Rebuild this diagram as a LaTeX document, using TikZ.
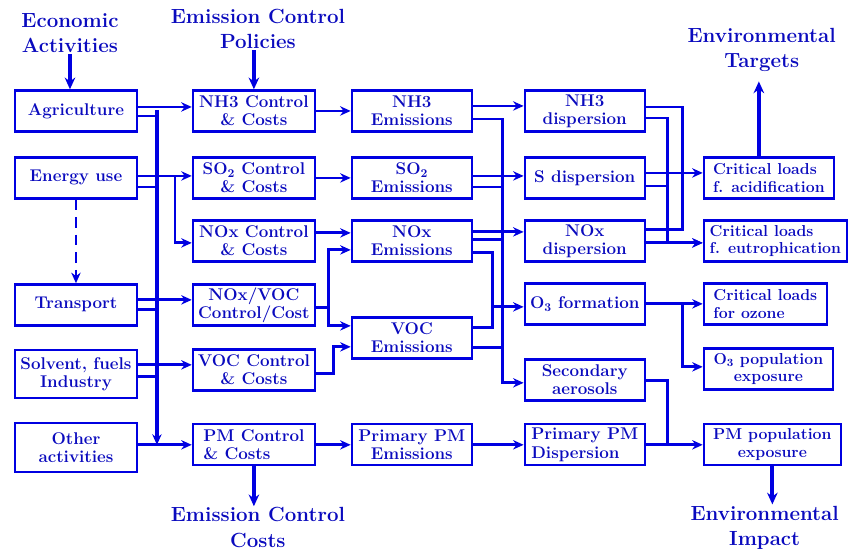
\documentclass[tikz,border=0pt]{standalone}
\usepackage{tikz}
\usetikzlibrary{arrows.meta,positioning,calc}
\definecolor{flowblue}{RGB}{0,0,225}
\definecolor{textblue}{RGB}{10,10,190}

\begin{document}
\begin{tikzpicture}[x=0.03cm, y=-0.03cm,
    blk/.style={draw=flowblue,line width=2pt,fill=white,inner sep=1pt,minimum height=1.23cm,
      text=textblue,align=center,font=\fontsize{14.5}{15.5}\selectfont\bfseries},
    act/.style={blk,minimum width=3.66cm},
    ctl/.style={blk,minimum width=3.66cm},
    emi/.style={blk,minimum width=3.6cm},
    tgt/.style={blk,anchor=west,align=left,font=\fontsize{13.5}{15}\selectfont\bfseries},
    ttl/.style={text=textblue,align=center,inner sep=1pt,font=\fontsize{17.5}{22}\selectfont\bfseries},
    link/.style={draw=flowblue,line width=2.4pt},
    arr/.style={link,-{Stealth[length=9pt,width=8pt]}},
    busarr/.style={arr,line width=3.2pt},
    bigarr/.style={draw=flowblue,line width=3.2pt,-{Stealth[length=10pt,width=9pt]}}
  ]
  \fill[white] (0,0) rectangle (848,551);
  % titles
  \node[ttl] (econ) at (70,33)  {Economic\\Activities};
  \node[ttl] (pol)  at (258,29) {Emission Control\\Policies};
  \node[ttl] (targ) at (762,50) {Environmental\\Targets};
  \node[ttl] (cost) at (258,528) {Emission Control\\Costs};
  \node[ttl] (imp)  at (765,528) {Environmental\\Impact};
  % economic activities
  \node[act] (agr)   at (76,111) {Agriculture};
  \node[act] (ener)  at (76,178) {Energy use};
  \node[act] (trans) at (76,305) {Transport};
  \node[act,minimum height=1.44cm] (solv)  at (76,374) {Solvent, fuels\\Industry};
  \node[act,minimum height=1.47cm] (other) at (76,448) {Other\\activities};
  % controls
  \node[ctl] (nh3c) at (254,111) {NH3 Control\\\& Costs};
  \node[ctl] (so2c) at (254,178) {SO\textsubscript{2} Control\\\& Costs};
  \node[ctl] (noxc) at (254,241) {NOx Control\\\& Costs};
  \node[ctl] (nvc)  at (254,305) {NOx/VOC\\Control/Cost};
  \node[ctl] (vocc) at (254,370) {VOC Control\\\& Costs};
  \node[ctl,align=left] (pmc) at (254,445) {PM Control\\\& Costs};
  % emissions
  \node[emi] (nh3e) at (412,111) {NH3\\Emissions};
  \node[emi] (so2e) at (412,178) {SO\textsubscript{2}\\Emissions};
  \node[emi] (noxe) at (412,241) {NOx\\Emissions};
  \node[emi] (voce) at (412,338) {VOC\\Emissions};
  \node[emi] (pme)  at (412,445) {Primary PM\\Emissions};
  % dispersion
  \node[emi] (nh3d) at (585,111) {NH3\\dispersion};
  \node[emi] (sd)   at (585,178) {S dispersion};
  \node[emi] (noxd) at (585,241) {NOx\\dispersion};
  \node[emi] (o3f)  at (585,304) {O\textsubscript{3} formation};
  \node[emi] (seca) at (585,380) {Secondary\\aerosols};
  \node[emi,align=left] (pmd) at (585,445) {Primary PM\\Dispersion};
  % targets
  \node[tgt,minimum width=3.9cm]  (cla) at (703,178) {Critical loads\\f. acidification};
  \node[tgt,minimum width=4.29cm] (cle) at (703,241) {Critical loads\\f. eutrophication};
  \node[tgt,minimum width=3.69cm] (clo) at (703,304) {Critical loads\\for ozone};
  \node[tgt,minimum width=3.87cm,align=center] (o3p) at (703,369) {O\textsubscript{3} population\\exposure};
  \node[tgt,minimum width=4.11cm,align=center] (pmp) at (703,445) {PM population\\exposure};
  % bus lines
  \coordinate (lbus) at (157,110);
  \coordinate (brx)  at (175,0);
  \coordinate (nvx)  at (329,0);
  \coordinate (vcx)  at (334,0);
  \coordinate (ozx)  at (493,0);
  \coordinate (rbus) at (503,0);
  \coordinate (ebus) at (668,0);
  \coordinate (abus) at (683,0);

  % title arrows
  \draw[bigarr] (econ.south) -- (econ.south |- agr.north);
  \draw[bigarr] (nh3c.north |- pol.south) -- (nh3c.north);
  \draw[bigarr] ($(cla.north)+(-10,0)$) -- ($(cla.north |- targ.south)+(-10,8)$);
  \draw[bigarr] (pmc.south) -- (pmc.south |- cost.north);
  \draw[bigarr] (pmp.south) -- (pmp.south |- imp.north);

  % activities -> controls
  \draw[arr] ($(agr.east)+(0,-4)$) -- ($(agr.east -| nh3c.west)+(0,-4)$);
  \draw[arr] ($(ener.east)+(0,-2)$) -- ($(ener.east -| so2c.west)+(0,-2)$);
  \draw[arr] ($(ener.east -| brx)+(0,-2)$) |- ($(noxc.west)+(0,2)$);
  \draw[arr,dash pattern=on 9pt off 6pt] (ener.south) -- (trans.north);
  \draw[arr] ($(trans.east)+(0,-5)$) -- ($(trans.east -| nvc.west)+(0,-5)$);
  \draw[arr] ($(solv.east)+(0,-9)$) -- ($(solv.east -| vocc.west)+(0,-9)$);
  \draw[arr] ($(other.east)+(0,-3)$) -- ($(other.east -| pmc.west)+(0,-3)$);
  \draw[link] ($(agr.east)+(0,5)$) -- ($(agr.east -| lbus)+(0,5)$);
  \draw[link] ($(ener.east)+(0,9)$) -- ($(ener.east -| lbus)+(0,9)$);
  \draw[link] ($(trans.east)+(0,5)$) -- ($(trans.east -| lbus)+(0,5)$);
  \draw[link] ($(solv.east)+(0,3)$) -- ($(solv.east -| lbus)+(0,3)$);
  \draw[busarr] (lbus) -- (lbus |- pmc.west);

  % controls -> emissions
  \draw[arr] (nh3c.east) -- (nh3e.west);
  \draw[arr] (so2c.east) -- (so2e.west);
  \draw[arr] ($(noxc.east)+(0,-8)$) -- ($(noxc.east -| noxe.west)+(0,-8)$);
  \draw[arr] ($(nvc.east)+(0,3)$) -| ($(noxe.west -| nvx)+(0,9)$) -- ($(noxe.west)+(0,9)$);
  \draw[arr] ($(nvc.east)+(0,3)$) -| ($(voce.west -| nvx)+(0,-12)$) -- ($(voce.west)+(0,-12)$);
  \draw[arr] ($(vocc.east)+(0,4)$) -| ($(voce.west -| vcx)+(0,9)$) -- ($(voce.west)+(0,9)$);
  \draw[arr] (pmc.east) -- (pme.west);

  % emissions -> dispersion
  \draw[arr] ($(nh3e.east)+(0,-5)$) -- ($(nh3e.east -| nh3d.west)+(0,-5)$);
  \draw[arr] ($(so2e.east)+(0,-2)$) -- ($(so2e.east -| sd.west)+(0,-2)$);
  \draw[arr] ($(noxe.east)+(0,-9)$) -- ($(noxe.east -| noxd.west)+(0,-9)$);
  \draw[arr] ($(nh3e.east)+(0,8)$) -| ($(seca.west -| rbus)+(0,3)$) -- ($(seca.west)+(0,3)$);
  \draw[link] ($(so2e.east)+(0,9)$) -- ($(so2e.east -| rbus)+(0,9)$);
  \draw[link] ($(noxe.east)+(0,-1)$) -- ($(noxe.east -| rbus)+(0,-1)$);
  \draw[link] ($(voce.east)+(0,10)$) -- ($(voce.east -| rbus)+(0,10)$);
  \draw[arr] ($(noxe.east)+(0,12)$) -| ($(o3f.west -| ozx)+(0,3)$) -- ($(o3f.west)+(0,3)$);
  \draw[link] ($(voce.east)+(0,-10)$) -| ($(o3f.west -| ozx)+(0,3)$);
  \draw[arr] (pme.east) -- (pmd.west);

  % dispersion -> targets
  \draw[link] ($(nh3d.east)+(0,-4)$) -| ($(noxd.east -| abus)+(0,-11)$) -- ($(noxd.east)+(0,-11)$);
  \draw[arr] ($(sd.east)+(0,-5)$) -- ($(sd.east -| cla.west)+(0,-5)$);
  \draw[arr] ($(nh3d.east)+(0,7)$) -| ($(cle.west -| ebus)+(0,2)$) -- ($(cle.west)+(0,2)$);
  \draw[link] ($(sd.east)+(0,8)$) -- ($(sd.east -| ebus)+(0,8)$);
  \draw[arr] ($(noxd.east)+(0,2)$) -- ($(noxd.east -| cle.west)+(0,2)$);
  \draw[arr] (o3f.east) -- (o3f.east -| clo.west);
  \draw[arr] (o3f.east -| abus) |- ($(o3p.west)+(0,-2)$);
  \draw[link] ($(seca.east)+(0,1)$) -| (pmd.east -| ebus);
  \draw[arr] (pmd.east) -- (pmp.west);
\end{tikzpicture}
\end{document}
